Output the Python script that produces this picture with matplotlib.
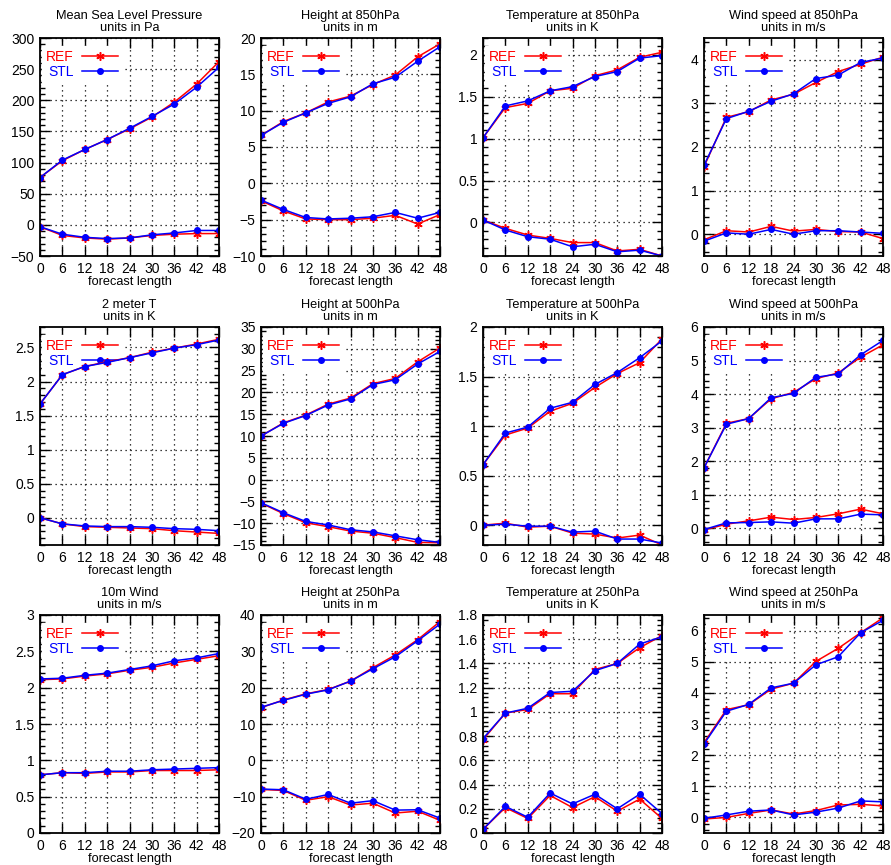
import matplotlib
matplotlib.use("Agg")
import matplotlib.pyplot as plt
import numpy as np
from matplotlib.ticker import MultipleLocator, AutoMinorLocator

plt.rcParams['font.family'] = ['Liberation Sans', 'DejaVu Sans']

# forecast length (hours)
steps = [0, 6, 12, 18, 24, 30, 36, 42, 48]

titles = [
    "Mean Sea Level Pressure\nunits in Pa", "Height at 850hPa\nunits in m",
    "Temperature at 850hPa\nunits in K", "Wind speed at 850hPa\nunits in m/s",
    "2 meter T\nunits in K", "Height at 500hPa\nunits in m",
    "Temperature at 500hPa\nunits in K", "Wind speed at 500hPa\nunits in m/s",
    "10m Wind\nunits in m/s", "Height at 250hPa\nunits in m",
    "Temperature at 250hPa\nunits in K", "Wind speed at 250hPa\nunits in m/s",
]

# upper curves (rms) and lower curves (bias), REF and STL
ref_rms = [
    [76, 103, 121, 137, 154, 173, 197, 226, 262],
    [6.6, 8.5, 9.7, 11.2, 12.0, 13.6, 14.9, 17.4, 19.2],
    [1.01, 1.37, 1.42, 1.57, 1.60, 1.75, 1.82, 1.97, 2.03],
    [1.55, 2.68, 2.81, 3.08, 3.21, 3.48, 3.73, 3.90, 4.06],
    [1.67, 2.10, 2.22, 2.29, 2.35, 2.43, 2.49, 2.55, 2.62],
    [10.0, 13.0, 14.8, 17.3, 18.7, 22.0, 23.2, 27.0, 30.2],
    [0.61, 0.91, 0.98, 1.15, 1.23, 1.39, 1.53, 1.64, 1.88],
    [1.80, 3.13, 3.27, 3.86, 4.05, 4.46, 4.63, 5.10, 5.47],
    [2.11, 2.12, 2.16, 2.19, 2.24, 2.28, 2.34, 2.39, 2.44],
    [14.5, 16.6, 18.3, 19.5, 21.8, 25.5, 29.0, 33.2, 38.2],
    [0.77, 0.99, 1.02, 1.15, 1.15, 1.35, 1.40, 1.53, 1.63],
    [2.40, 3.46, 3.62, 4.12, 4.31, 5.01, 5.43, 5.93, 6.41],
]
stl_rms = [
    [76, 104, 121, 137, 155, 174, 194, 221, 253],
    [6.6, 8.4, 9.7, 11.0, 11.9, 13.7, 14.6, 16.8, 18.8],
    [1.01, 1.39, 1.45, 1.57, 1.62, 1.74, 1.80, 1.96, 1.99],
    [1.58, 2.65, 2.82, 3.05, 3.22, 3.57, 3.65, 3.94, 4.04],
    [1.67, 2.10, 2.22, 2.28, 2.35, 2.42, 2.49, 2.54, 2.61],
    [10.0, 12.9, 14.7, 17.1, 18.5, 21.8, 22.9, 26.5, 29.4],
    [0.61, 0.93, 0.99, 1.18, 1.24, 1.42, 1.54, 1.69, 1.86],
    [1.80, 3.10, 3.27, 3.89, 4.02, 4.50, 4.60, 5.17, 5.60],
    [2.12, 2.13, 2.17, 2.20, 2.25, 2.30, 2.37, 2.41, 2.47],
    [14.6, 16.5, 18.2, 19.4, 21.8, 25.2, 28.5, 32.9, 37.5],
    [0.78, 0.99, 1.03, 1.16, 1.17, 1.34, 1.40, 1.56, 1.62],
    [2.36, 3.41, 3.63, 4.16, 4.31, 4.90, 5.16, 5.93, 6.33],
]
ref_bias = [
    [-3, -17, -21, -23, -21, -17, -15, -14, -14],
    [-2.4, -3.8, -4.9, -5.0, -5.0, -4.8, -4.4, -5.6, -4.3],
    [0.03, -0.07, -0.15, -0.19, -0.24, -0.24, -0.34, -0.32, -0.40],
    [-0.13, 0.08, 0.05, 0.18, 0.07, 0.11, 0.06, 0.05, -0.10],
    [0.0, -0.09, -0.13, -0.14, -0.15, -0.16, -0.19, -0.21, -0.23],
    [-5.4, -7.8, -9.9, -10.8, -11.8, -12.3, -13.3, -14.4, -14.5],
    [0.0, 0.02, -0.02, -0.01, -0.08, -0.09, -0.13, -0.10, -0.20],
    [-0.05, 0.12, 0.22, 0.33, 0.26, 0.32, 0.43, 0.57, 0.43],
    [0.80, 0.83, 0.82, 0.84, 0.84, 0.86, 0.86, 0.86, 0.87],
    [-8.0, -8.3, -11.0, -10.0, -12.3, -11.8, -14.5, -14.0, -16.5],
    [0.03, 0.21, 0.12, 0.31, 0.21, 0.30, 0.18, 0.28, 0.12],
    [-0.05, 0.0, 0.13, 0.24, 0.11, 0.22, 0.40, 0.42, 0.37],
]
stl_bias = [
    [-3, -15, -20, -22, -21, -16, -13, -9, -9],
    [-2.3, -3.6, -4.7, -4.9, -4.8, -4.6, -4.0, -4.8, -4.0],
    [0.03, -0.09, -0.17, -0.20, -0.29, -0.26, -0.35, -0.33, -0.40],
    [-0.16, 0.03, 0.0, 0.11, 0.0, 0.08, 0.08, 0.05, 0.02],
    [0.0, -0.09, -0.12, -0.13, -0.13, -0.14, -0.16, -0.17, -0.19],
    [-5.3, -7.6, -9.6, -10.4, -11.5, -12.0, -12.9, -13.8, -14.4],
    [0.0, 0.01, -0.01, -0.01, -0.07, -0.06, -0.14, -0.14, -0.18],
    [-0.04, 0.16, 0.17, 0.19, 0.15, 0.28, 0.28, 0.42, 0.40],
    [0.80, 0.83, 0.83, 0.85, 0.85, 0.87, 0.88, 0.89, 0.90],
    [-7.9, -8.1, -10.7, -9.4, -11.8, -11.1, -13.7, -13.6, -15.9],
    [0.03, 0.22, 0.13, 0.33, 0.24, 0.32, 0.20, 0.32, 0.16],
    [-0.03, 0.08, 0.20, 0.24, 0.08, 0.17, 0.30, 0.53, 0.50],
]

ylims = [(-50, 300), (-10, 20), (-0.4, 2.2), (-0.5, 4.5),
         (-0.4, 2.8), (-15, 35), (-0.2, 2.0), (-0.5, 6),
         (0, 3), (-20, 40), (0, 1.8), (-0.5, 6.5)]
ysteps = [50, 5, 0.5, 1, 0.5, 5, 0.5, 1, 0.5, 10, 0.2, 1]

W, H = 891, 865
fig = plt.figure(figsize=(W / 100, H / 100), dpi=100)

col_left = [40, 261, 483, 704]
row_top = [38, 327, 615]
aw, ah = 179, 218

asterisk = (6, 2, 0)

for i in range(12):
    r, c = divmod(i, 4)
    ax = fig.add_axes([col_left[c] / W, (H - row_top[r] - ah) / H, aw / W, ah / H])

    ax.plot(steps, ref_rms[i], color='red', lw=1.1, marker=asterisk, ms=6, mew=1.1, label='REF')
    ax.plot(steps, ref_bias[i], color='red', lw=1.1, marker=asterisk, ms=6, mew=1.1)
    ax.plot(steps, stl_rms[i], color='blue', lw=1.1, marker='o', ms=4, label='STL')
    ax.plot(steps, stl_bias[i], color='blue', lw=1.1, marker='o', ms=4)

    ax.set_xlim(0, 48)
    ax.set_ylim(*ylims[i])
    ax.xaxis.set_major_locator(MultipleLocator(6))
    ax.yaxis.set_major_locator(MultipleLocator(ysteps[i]))
    ax.yaxis.set_minor_locator(AutoMinorLocator(5))
    ax.yaxis.set_major_formatter(plt.FuncFormatter(lambda v, p: f"{v:g}".replace('-', '\u2212')))

    ax.grid(True, which='major', color='black', linestyle=(0, (1, 3)), lw=0.9)
    ax.tick_params(which='both', direction='in', top=True, right=True, labelsize=10, pad=4)
    ax.tick_params(which='major', length=7, width=1)
    ax.tick_params(which='minor', length=3.5, width=1)
    for s in ax.spines.values():
        s.set_linewidth(1.3)

    ax.set_title(titles[i], fontsize=9.2, pad=5, linespacing=1.0)
    ax.set_xlabel('forecast length', fontsize=9.2, labelpad=0)

    leg = ax.legend(loc='upper left', bbox_to_anchor=(0.0, 0.975), markerfirst=False,
                    frameon=True, fontsize=10, handlelength=2.6, borderaxespad=0.15,
                    borderpad=0.3, labelspacing=0.1, handletextpad=0.6, fancybox=False)
    leg.get_frame().set_facecolor('white')
    leg.get_frame().set_edgecolor('white')
    leg.get_frame().set_alpha(1)
    leg.set_zorder(1.8)
    for txt, col in zip(leg.get_texts(), ['red', 'blue']):
        txt.set_color(col)

fig.savefig('out.png', dpi=100)
